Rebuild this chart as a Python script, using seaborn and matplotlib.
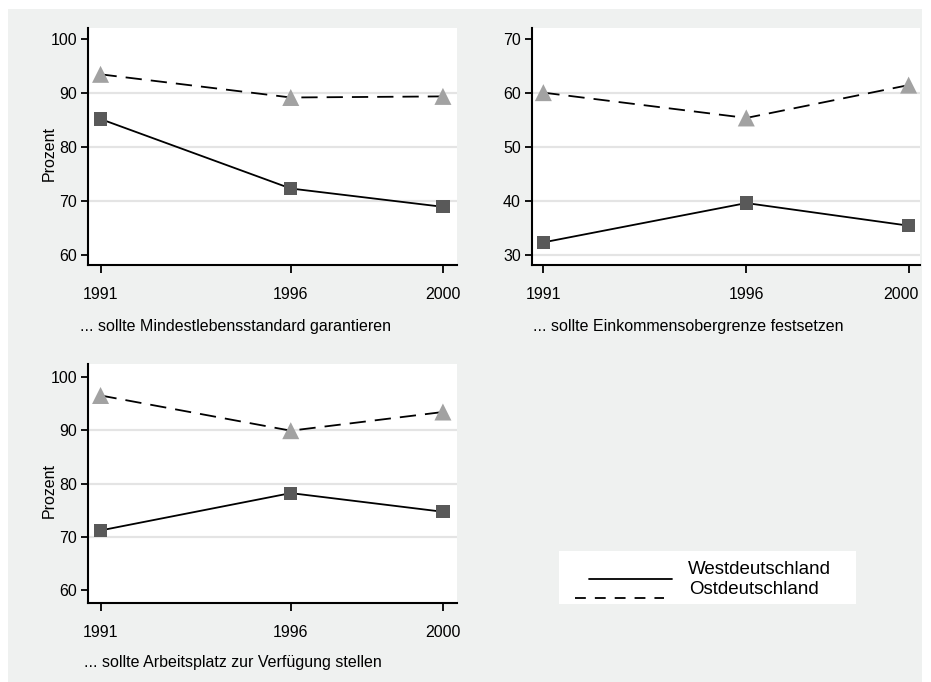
import matplotlib
matplotlib.use("Agg")
import matplotlib.pyplot as plt
import matplotlib.transforms as mtransforms
from matplotlib.lines import Line2D
from matplotlib.patches import Rectangle
import seaborn as sns
import pandas as pd

# Survey years
years = [1991, 1996, 2000]

# Share agreeing (percent), West vs. East Germany
west_mindest = [85.2, 72.3, 68.9]
ost_mindest = [93.5, 89.2, 89.4]
west_einkommen = [32.3, 39.6, 35.4]
ost_einkommen = [60.1, 55.4, 61.5]
west_arbeit = [71.2, 78.2, 74.7]
ost_arbeit = [96.5, 89.9, 93.4]

panel_titles = [
    "... sollte Mindestlebensstandard garantieren",
    "... sollte Einkommensobergrenze festsetzen",
    "... sollte Arbeitsplatz zur Verfügung stellen",
]
region_labels = ["Westdeutschland", "Ostdeutschland"]
y_ticks_12 = [60, 70, 80, 90, 100]
y_ticks_2 = [30, 40, 50, 60, 70]
ylabel = "Prozent"

sns.set_theme(style="white")
plt.rcParams["font.family"] = ["Liberation Sans", "DejaVu Sans"]
plt.rcParams["text.color"] = "black"

W, H = 931, 682
fig = plt.figure(figsize=(W / 100, H / 100), dpi=100, facecolor="white")

# grey canvas
fig.patches.append(Rectangle((8 / W, 0), (922 - 8) / W, (H - 9) / H,
                             transform=fig.transFigure, facecolor="#eff1f0",
                             edgecolor="none", zorder=-2))


def px_axes(left, top, right, bottom):
    return fig.add_axes([left / W, 1 - bottom / H, (right - left) / W, (bottom - top) / H])


def fx(px):
    return px / W


def fy(py):
    return 1 - py / H


panels = [
    dict(rect=(88, 28, 457, 265), west=west_mindest, ost=ost_mindest,
         ticks=y_ticks_12, ylim=(58.1, 102.1), xlim=(1990.67, 2000.37),
         grid=[70, 80, 90], title=panel_titles[0], tx=-0.022, ty=-0.26,
         ylab=True, last_shift=0),
    dict(rect=(532, 28, 920, 265), west=west_einkommen, ost=ost_einkommen,
         ticks=y_ticks_2, ylim=(28.1, 72.1), xlim=(1990.72, 2000.28),
         grid=[30, 40, 50, 60], title=panel_titles[1], tx=0.002, ty=-0.26,
         ylab=False, last_shift=-8),
    dict(rect=(88, 364, 457, 603), west=west_arbeit, ost=ost_arbeit,
         ticks=y_ticks_12, ylim=(57.6, 102.4), xlim=(1990.67, 2000.37),
         grid=[70, 80, 90], title=panel_titles[2], tx=-0.01, ty=-0.247,
         ylab=True, last_shift=0),
]

for p in panels:
    ax = px_axes(*p["rect"])
    ax.set_facecolor("white")
    df = pd.DataFrame({
        "Jahr": years * 2,
        "Wert": list(p["west"]) + list(p["ost"]),
        "Region": [region_labels[0]] * 3 + [region_labels[1]] * 3,
    })
    for g in p["grid"]:
        ax.axhline(g, color="#e4e4e4", lw=1.6, zorder=0)
    sns.lineplot(data=df, x="Jahr", y="Wert", style="Region",
                 dashes={region_labels[0]: "", region_labels[1]: (9, 5)},
                 color="black", lw=1.3, legend=False, ax=ax, zorder=2)
    sns.scatterplot(data=df, x="Jahr", y="Wert", hue="Region", style="Region",
                    size="Region",
                    sizes={region_labels[0]: 90, region_labels[1]: 150},
                    markers={region_labels[0]: "s", region_labels[1]: "^"},
                    palette={region_labels[0]: "#595959", region_labels[1]: "#a2a2a2"},
                    linewidth=0, legend=False, ax=ax, zorder=3)
    ax.set_xlim(*p["xlim"])
    ax.set_ylim(*p["ylim"])
    ax.set_xticks(years)
    ax.set_xticklabels([str(y) for y in years])
    ax.set_yticks(p["ticks"])
    ax.set_yticklabels([str(t) for t in p["ticks"]])
    for s in ["top", "right"]:
        ax.spines[s].set_visible(False)
    for s in ["left", "bottom"]:
        ax.spines[s].set_color("black")
        ax.spines[s].set_linewidth(1.5)
    ax.tick_params(axis="y", direction="out", length=5, width=1.3, pad=3,
                   labelsize=11.5, colors="black", left=True)
    ax.tick_params(axis="x", direction="out", length=6, width=1.3, pad=10,
                   labelsize=11.5, colors="black", bottom=True)
    if p["last_shift"]:
        lab = ax.get_xticklabels()[-1]
        lab.set_transform(lab.get_transform() + mtransforms.ScaledTranslation(
            p["last_shift"] / 100, 0, fig.dpi_scale_trans))
    ax.set_xlabel("")
    if p["ylab"]:
        ax.set_ylabel(ylabel, fontsize=11.5, color="black")
        ax.yaxis.set_label_coords(-0.086, 0.47)
    else:
        ax.set_ylabel("")
    ax.text(p["tx"], p["ty"], p["title"], transform=ax.transAxes,
            ha="left", va="center", fontsize=11.5, color="black")

# legend key: white box, sample lines sitting below each label
fig.patches.append(Rectangle((fx(559), fy(604)), fx(856 - 559), (604 - 551) / H,
                             transform=fig.transFigure, facecolor="white",
                             edgecolor="none", zorder=-1))
fig.add_artist(Line2D([fx(589), fx(672)], [fy(579), fy(579)], color="black",
                      lw=1.3, transform=fig.transFigure))
fig.add_artist(Line2D([fx(575), fx(664)], [fy(598), fy(598)], color="black",
                      lw=1.3, dashes=(6, 5), transform=fig.transFigure))
fig.text(fx(688), fy(570), region_labels[0], fontsize=13.5, ha="left", va="center",
         color="black")
fig.text(fx(689), fy(589), region_labels[1], fontsize=13.5, ha="left", va="center",
         color="black")

fig.savefig("out.png", dpi=100, facecolor="white")
